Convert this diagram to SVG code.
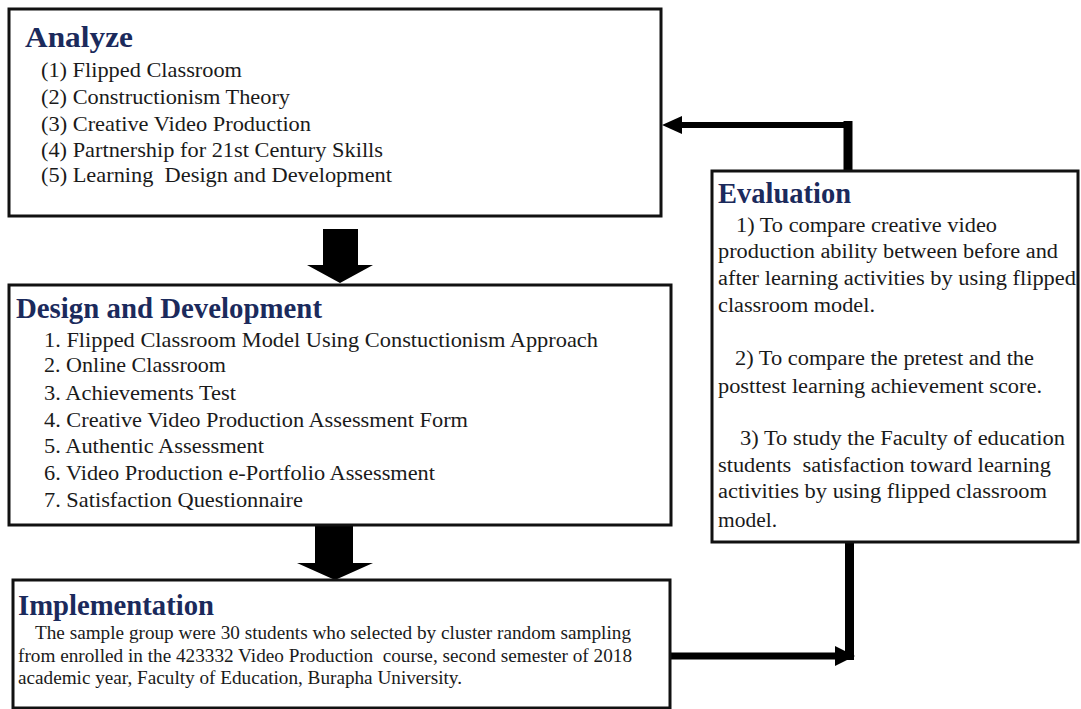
<svg xmlns="http://www.w3.org/2000/svg" width="1081" height="709" viewBox="0 0 1081 709">
<style>
.box{fill:#fff;stroke:#111;stroke-width:3}
.ttl{font-family:"Liberation Serif","Times New Roman",serif;font-weight:bold;font-size:29px;fill:#1b2a5c}
.t{font-family:"Liberation Serif","Times New Roman",serif;font-size:21px;fill:#1a1a1a;white-space:pre}
.e{font-family:"Liberation Serif","Times New Roman",serif;font-size:20px;fill:#1a1a1a;white-space:pre}
.s{font-family:"Liberation Serif","Times New Roman",serif;font-size:18px;fill:#1a1a1a;white-space:pre}
.ln{stroke:#000;fill:none}
.ah{fill:#000}
</style>
<rect width="1081" height="709" fill="#fff"/>
<g id="connectors">
  <polygon class="ah" points="323,229 358,229 358,265 373,265 340,283 307,265 323,265"/>
  <polygon class="ah" points="315,525 353,525 353,563 373,563 335,580 297,563 315,563"/>
  <line class="ln" x1="848" y1="171" x2="848" y2="121" stroke-width="9"/>
  <line class="ln" x1="852" y1="125" x2="678" y2="125" stroke-width="6"/>
  <polygon class="ah" points="662,125 682,116 682,134"/>
  <line class="ln" x1="849.5" y1="542" x2="849.5" y2="660" stroke-width="9"/>
  <line class="ln" x1="660" y1="656" x2="838" y2="656" stroke-width="7"/>
  <polygon class="ah" points="855,656 835,646 835,666"/>
</g>
<g id="analyze">
  <rect class="box" x="9" y="9" width="652" height="207"/>
  <text class="ttl" x="25" y="47" textLength="108" lengthAdjust="spacingAndGlyphs">Analyze</text>
  <text class="t" x="41" y="77" textLength="201" lengthAdjust="spacingAndGlyphs">(1) Flipped Classroom</text>
  <text class="t" x="41" y="104" textLength="249" lengthAdjust="spacingAndGlyphs">(2) Constructionism Theory</text>
  <text class="t" x="41" y="131" textLength="270" lengthAdjust="spacingAndGlyphs">(3) Creative Video Production</text>
  <text class="t" x="41" y="157" textLength="342" lengthAdjust="spacingAndGlyphs">(4) Partnership for 21st Century Skills</text>
  <text class="t" x="41" y="182" textLength="351" lengthAdjust="spacingAndGlyphs">(5) Learning  Design and Development</text>
</g>
<g id="design">
  <rect class="box" x="9" y="285" width="662" height="240"/>
  <text class="ttl" x="16" y="318" textLength="306" lengthAdjust="spacingAndGlyphs">Design and Development</text>
  <text class="t" x="44" y="347" textLength="554" lengthAdjust="spacingAndGlyphs">1. Flipped Classroom Model Using Constuctionism Approach</text>
  <text class="t" x="44" y="372" textLength="182" lengthAdjust="spacingAndGlyphs">2. Online Classroom</text>
  <text class="t" x="44" y="400" textLength="192" lengthAdjust="spacingAndGlyphs">3. Achievements Test</text>
  <text class="t" x="44" y="427" textLength="424" lengthAdjust="spacingAndGlyphs">4. Creative Video Production Assessment Form</text>
  <text class="t" x="44" y="453" textLength="220" lengthAdjust="spacingAndGlyphs">5. Authentic Assessment</text>
  <text class="t" x="44" y="480" textLength="391" lengthAdjust="spacingAndGlyphs">6. Video Production e-Portfolio Assessment</text>
  <text class="t" x="44" y="507" textLength="259" lengthAdjust="spacingAndGlyphs">7. Satisfaction Questionnaire</text>
</g>
<g id="implementation">
  <rect class="box" x="13" y="580" width="657" height="128"/>
  <text class="ttl" x="18" y="615" textLength="196" lengthAdjust="spacingAndGlyphs">Implementation</text>
  <text class="s" x="35" y="639" textLength="596" lengthAdjust="spacingAndGlyphs">The sample group were 30 students who selected by cluster random sampling</text>
  <text class="s" x="18" y="662" textLength="614" lengthAdjust="spacingAndGlyphs">from enrolled in the 423332 Video Production  course, second semester of 2018</text>
  <text class="s" x="18" y="684" textLength="444" lengthAdjust="spacingAndGlyphs">academic year, Faculty of Education, Burapha University.</text>
</g>
<g id="evaluation">
  <rect class="box" x="712" y="171" width="366" height="371"/>
  <text class="ttl" x="718" y="203" textLength="133" lengthAdjust="spacingAndGlyphs">Evaluation</text>
  <text class="e" x="736" y="232" textLength="261" lengthAdjust="spacingAndGlyphs">1) To compare creative video</text>
  <text class="e" x="718" y="258" textLength="340" lengthAdjust="spacingAndGlyphs">production ability between before and</text>
  <text class="e" x="718" y="285" textLength="358" lengthAdjust="spacingAndGlyphs">after learning activities by using flipped</text>
  <text class="e" x="718" y="312" textLength="157" lengthAdjust="spacingAndGlyphs">classroom model.</text>
  <text class="e" x="735" y="365" textLength="299" lengthAdjust="spacingAndGlyphs">2) To compare the pretest and the</text>
  <text class="e" x="718" y="393" textLength="324" lengthAdjust="spacingAndGlyphs">posttest learning achievement score.</text>
  <text class="e" x="740" y="445" textLength="325" lengthAdjust="spacingAndGlyphs">3) To study the Faculty of education</text>
  <text class="e" x="718" y="472" textLength="333" lengthAdjust="spacingAndGlyphs">students  satisfaction toward learning</text>
  <text class="e" x="718" y="498" textLength="329" lengthAdjust="spacingAndGlyphs">activities by using flipped classroom</text>
  <text class="e" x="718" y="527" textLength="59" lengthAdjust="spacingAndGlyphs">model.</text>
</g>
</svg>
